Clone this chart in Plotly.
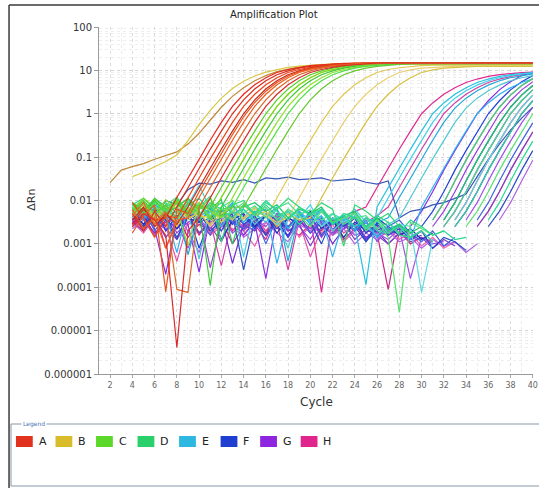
import plotly.graph_objects as go

# Cycle numbers; each well's list of log10(ΔRn) readings ends at cycle 40
CYCLES = list(range(1, 41))

ROW_A = [
    [-2.55, -2.20, -2.45, -2.40, -1.93, -1.48, -1.04, -0.61, -0.20, 0.17, 0.45, 0.67, 0.83, 0.95, 1.02, 1.07, 1.11, 1.13, 1.15,
     1.16, 1.16, 1.16, 1.16, 1.16, 1.16, 1.16, 1.16, 1.16, 1.16, 1.16, 1.16, 1.16, 1.16, 1.16, 1.16, 1.16, 1.16],
    [-2.30, -2.70, -2.25, -2.60, -2.15, -1.70, -1.25, -0.82, -0.40, 0.00, 0.32, 0.57, 0.76, 0.90, 0.99, 1.05, 1.09, 1.12, 1.14, 1.15,
     1.17, 1.17, 1.17, 1.17, 1.17, 1.17, 1.17, 1.17, 1.17, 1.17, 1.17, 1.17, 1.17, 1.17, 1.17, 1.17, 1.17],
    [-2.05, -2.40, -2.85, -2.35, -2.40, -1.93, -1.48, -1.04, -0.61, -0.20, 0.17, 0.45, 0.67, 0.83, 0.95, 1.02, 1.07, 1.11, 1.13, 1.15,
     1.16, 1.16, 1.16, 1.16, 1.16, 1.16, 1.16, 1.16, 1.16, 1.16, 1.16, 1.16, 1.16, 1.16, 1.16, 1.16, 1.16],
    [-2.45, -2.15, -2.60, -2.30, -2.55, -2.15, -1.70, -1.25, -0.82, -0.40, 0.00, 0.32, 0.57, 0.76, 0.90, 0.99, 1.05, 1.09, 1.12, 1.14, 1.15,
     1.17, 1.17, 1.17, 1.17, 1.17, 1.17, 1.17, 1.17, 1.17, 1.17, 1.17, 1.17, 1.17, 1.17, 1.17, 1.17],
    [-2.75, -2.35, -2.10, -4.10, -2.20, -2.30, -1.80, -1.35, -0.90, -0.48, -0.07, 0.26, 0.52, 0.72, 0.87, 0.97, 1.04, 1.08, 1.11, 1.13, 1.15,
     1.16, 1.16, 1.16, 1.16, 1.16, 1.16, 1.16, 1.16, 1.16, 1.16, 1.16, 1.16, 1.16, 1.16, 1.16, 1.16],
    [-2.20, -2.65, -2.40, -3.10, -2.45, -2.40, -1.93, -1.48, -1.04, -0.61, -0.20, 0.17, 0.45, 0.67, 0.83, 0.95, 1.02, 1.07, 1.11, 1.13, 1.15,
     1.17, 1.17, 1.17, 1.17, 1.17, 1.17, 1.17, 1.17, 1.17, 1.17, 1.17, 1.17, 1.17, 1.17, 1.17, 1.17],
    [-2.35, -2.05, -2.55, -2.25, -4.05, -4.12, -2.15, -1.70, -1.25, -0.82, -0.40, 0.00, 0.32, 0.57, 0.76, 0.90, 0.99, 1.05, 1.09, 1.12,
     1.14, 1.15, 1.16, 1.16, 1.16, 1.16, 1.16, 1.16, 1.16, 1.16, 1.16, 1.16, 1.16, 1.16, 1.16, 1.16, 1.16],
    [-2.60, -2.30, -2.45, -2.80, -5.39, -2.70, -2.40, -1.93, -1.48, -1.04, -0.61, -0.20, 0.17, 0.45, 0.67, 0.83, 0.95, 1.02, 1.07, 1.11,
     1.13, 1.15, 1.17, 1.17, 1.17, 1.17, 1.17, 1.17, 1.17, 1.17, 1.17, 1.17, 1.17, 1.17, 1.17, 1.17, 1.17],
]
COLORS_A = ["#e8281c", "#d8301e", "#f04418", "#c82818", "#e85420", "#f05c1c", "#d86a2a", "#d82c2c"]

ROW_B = [
    [-1.59, -1.30, -1.22, -1.15, -1.05, -0.97, -0.88, -0.70, -0.45, -0.15, 0.15, 0.40, 0.60, 0.76, 0.88, 0.97, 1.03,
     1.08, 1.11, 1.13, 1.14, 1.15, 1.15, 1.15, 1.15, 1.15, 1.15, 1.15, 1.15, 1.15, 1.15, 1.15, 1.15, 1.15, 1.15, 1.15, 1.15, 1.15, 1.15],
    [-1.45, -1.35, -1.22, -1.10, -0.95, -0.62, -0.25, 0.08, 0.36, 0.58, 0.75, 0.87, 0.96, 1.02, 1.07, 1.10, 1.12, 1.14,
     1.15, 1.15, 1.15, 1.15, 1.15, 1.15, 1.15, 1.15, 1.15, 1.15, 1.15, 1.15, 1.15, 1.15, 1.15, 1.15, 1.15, 1.15, 1.15],
    [-2.25, -2.05, -2.40, -2.15, -2.55, -2.20, -2.35, -2.40, -1.93, -1.48, -1.04, -0.61, -0.20, 0.17, 0.45, 0.67, 0.83, 0.95,
     1.02, 1.07, 1.11, 1.13, 1.15, 1.16, 1.16, 1.16, 1.16, 1.16, 1.16, 1.16, 1.16, 1.16, 1.16, 1.16, 1.16, 1.16, 1.16],
    [-2.30, -2.10, -2.45, -2.20, -2.60, -2.15, -2.35, -2.05, -2.50, -2.25, -2.40, -2.15, -2.40, -1.93, -1.48, -1.04, -0.61, -0.20,
     0.17, 0.45, 0.67, 0.83, 0.95, 1.02, 1.06, 1.09, 1.11, 1.12, 1.12, 1.12, 1.12, 1.12, 1.12, 1.12, 1.12, 1.12, 1.12],
    [-2.40, -2.20, -2.55, -2.30, -2.10, -2.45, -2.25, -2.60, -2.30, -2.15, -2.45, -2.20, -2.35, -2.50, -2.40, -1.93, -1.48, -1.04,
     -0.61, -0.20, 0.17, 0.45, 0.67, 0.83, 0.95, 1.01, 1.05, 1.07, 1.08, 1.09, 1.09, 1.09, 1.09, 1.09, 1.09, 1.09, 1.09],
    [-2.35, -2.15, -2.50, -2.25, -2.05, -2.40, -2.30, -2.55, -2.20, -2.45, -2.10, -2.35, -2.25, -2.60, -2.30, -2.45, -2.40, -1.93,
     -1.48, -1.04, -0.61, -0.20, 0.17, 0.45, 0.67, 0.83, 0.95, 1.01, 1.05, 1.07, 1.08, 1.09, 1.09, 1.09, 1.09, 1.09, 1.09],
]
COLORS_B = ["#c08a3a", "#d8c848", "#c8d838", "#e0c850", "#e8d070", "#d8c040"]

ROW_C = [
    [-2.10, -2.30, -1.95, -2.20, -2.05, -2.35, -2.15, -2.15, -1.70, -1.25, -0.82, -0.40, 0.00, 0.32, 0.57, 0.76, 0.90, 0.99,
     1.05, 1.09, 1.12, 1.14, 1.15, 1.16, 1.16, 1.16, 1.16, 1.16, 1.16, 1.16, 1.16, 1.16, 1.16, 1.16, 1.16, 1.16, 1.16],
    [-2.20, -1.95, -2.15, -2.40, -2.00, -2.25, -2.10, -2.40, -1.93, -1.48, -1.04, -0.61, -0.20, 0.17, 0.45, 0.67, 0.83, 0.95,
     1.02, 1.07, 1.11, 1.13, 1.15, 1.17, 1.17, 1.17, 1.17, 1.17, 1.17, 1.17, 1.17, 1.17, 1.17, 1.17, 1.17, 1.17, 1.17],
    [-2.05, -2.25, -2.00, -2.30, -2.15, -1.95, -2.20, -3.96, -2.15, -1.70, -1.25, -0.82, -0.40, 0.00, 0.32, 0.57, 0.76, 0.90,
     0.99, 1.05, 1.09, 1.12, 1.14, 1.15, 1.16, 1.16, 1.16, 1.16, 1.16, 1.16, 1.16, 1.16, 1.16, 1.16, 1.16, 1.16, 1.16],
    [-2.30, -2.10, -2.35, -1.98, -2.20, -3.05, -2.05, -2.25, -2.40, -1.93, -1.48, -1.04, -0.61, -0.20, 0.17, 0.45, 0.67, 0.83,
     0.95, 1.02, 1.07, 1.11, 1.13, 1.15, 1.16, 1.16, 1.16, 1.16, 1.16, 1.16, 1.16, 1.16, 1.16, 1.16, 1.16, 1.16, 1.16],
    [-2.15, -2.35, -2.05, -2.25, -1.95, -2.30, -2.10, -2.45, -2.20, -2.15, -1.70, -1.25, -0.82, -0.40, 0.00, 0.32, 0.57, 0.76,
     0.90, 0.99, 1.05, 1.09, 1.12, 1.14, 1.15, 1.16, 1.16, 1.16, 1.16, 1.16, 1.16, 1.16, 1.16, 1.16, 1.16, 1.16, 1.16],
    [-2.25, -2.00, -2.30, -2.10, -2.40, -2.05, -2.20, -1.95, -2.35, -2.15, -2.15, -1.70, -1.25, -0.82, -0.40, 0.00, 0.32, 0.57,
     0.76, 0.90, 0.99, 1.05, 1.09, 1.12, 1.14, 1.15, 1.15, 1.15, 1.15, 1.15, 1.15, 1.15, 1.15, 1.15, 1.15, 1.15, 1.15],
]
COLORS_C = ["#58d028", "#78d820", "#40c838", "#90e030", "#50e048", "#68c830"]

ROW_D = [
    [-2.10, -1.95, -2.20, -2.05, -2.30, -2.00, -2.15, -1.90, -2.95, -2.10, -2.00, -2.35, -2.05, -2.20, -1.95, -2.15, -2.30, -2.05,
     -2.20, -3.05, -2.10, -2.25, -2.45, -2.30, -2.60, -2.75, None, -2.45, -2.05, -1.55, -1.07, -0.63, -0.21, 0.15, 0.43, 0.65, 0.81],
    [-2.05, -2.25, -1.95, -2.15, -2.00, -2.30, -2.10, -2.20, -1.98, -3.00, -2.15, -2.05, -2.25, -2.10, -2.40, -2.20, -2.30, -2.15,
     -2.50, -2.35, -2.25, -2.60, -2.40, -2.70, -2.55, -2.75, -2.60, None, -2.45, -2.05, -1.55, -1.07, -0.63, -0.21, 0.15, 0.43, 0.65],
    [-2.20, -2.00, -2.30, -2.10, -1.92, -2.25, -2.05, -2.35, -2.15, -2.00, -2.28, -2.12, -2.40, -2.18, -2.05, -2.32, -2.22, -2.45,
     -2.30, -2.55, -2.40, -2.35, -2.65, -2.50, -2.80, -2.85, -2.70, None, -2.60, -2.25, -1.80, -1.30, -0.85, -0.42, 0.00, 0.30, 0.55],
    [-2.15, -2.35, -2.05, -2.20, -2.40, -2.10, -1.95, -2.25, -2.05, -2.30, -2.20, -2.45, -2.10, -2.35, -2.25, -2.55, -2.30, -2.20,
     -2.45, -2.35, -2.60, -2.40, -2.70, -2.75, -2.60, -2.85, -2.70, -2.95, None, -2.60, -2.25, -1.80, -1.30, -0.85, -0.42, 0.00, 0.30],
    [-2.25, -2.05, -2.30, -2.15, -2.00, -2.35, -2.20, -2.10, -2.40, -2.25, -2.05, -2.30, -2.15, -2.45, -2.20, -2.35, -2.60, -2.25,
     -2.50, -2.40, -2.30, -2.70, -2.45, -2.85, -4.58, -2.50, -2.65, -2.80, -2.70, None, -2.60, -2.25, -1.80, -1.30, -0.85, -0.42, 0.00],
    [-2.10, -2.30, -2.00, -2.25, -2.15, -1.95, -2.35, -2.05, -2.20, -2.40, -2.10, -2.30, -2.00, -2.25, -2.45, -2.15, -2.35, -2.20,
     -2.55, -2.30, -2.40, -2.65, -2.35, -2.50, -2.75, -2.45, -2.60, -2.80, -2.70, -2.90, -2.85, None, -2.45, -2.05, -1.55, -1.07, -0.63],
]
COLORS_D = ["#30d878", "#20c868", "#48e088", "#38d0a0", "#58e070", "#28d890"]

ROW_E = [
    [-2.30, -2.10, -2.45, -2.20, -2.55, -2.05, -2.35, -2.25, -2.60, -2.15, -2.40, -2.30, -2.50, -2.20, -2.65, -2.35, -2.45, -2.25,
     -2.55, -2.40, -2.60, -3.94, -2.15, -1.70, -1.25, -0.82, -0.40, 0.00, 0.25, 0.45, 0.60, 0.72, 0.80, 0.86, 0.90, 0.93, 0.95],
    [-2.15, -2.35, -2.05, -2.40, -2.25, -2.10, -1.65, -2.20, -2.30, -2.05, -3.30, -2.15, -2.35, -2.55, -2.25, -2.40, -2.10, -2.60,
     -2.30, -2.45, -2.20, -2.50, -2.40, -1.93, -1.48, -1.04, -0.61, -0.20, 0.13, 0.36, 0.53, 0.66, 0.76, 0.83, 0.88, 0.92, 0.94],
    [-2.25, -2.45, -2.15, -2.35, -2.05, -3.25, -2.30, -2.20, -2.40, -2.10, -2.50, -2.25, -2.35, -2.15, -3.40, -2.30, -2.45, -2.20,
     -2.55, -2.35, -2.70, -2.40, -2.50, -2.40, -1.93, -1.48, -1.04, -0.61, -0.20, 0.13, 0.36, 0.53, 0.66, 0.76, 0.83, 0.88, 0.92],
    [-2.35, -2.20, -2.50, -2.10, -2.40, -2.25, -3.35, -2.15, -2.35, -2.45, -2.20, -2.55, -2.30, -2.40, -3.10, -2.25, -2.50, -2.35,
     -2.70, -2.45, -2.30, -2.60, -2.80, -2.55, -2.40, -1.93, -1.48, -1.04, -0.61, -0.20, 0.13, 0.36, 0.53, 0.66, 0.76, 0.83, 0.88],
    [-2.20, -2.40, -2.10, -2.30, -3.20, -2.15, -2.45, -2.25, -2.35, -2.05, -2.50, -2.30, -2.20, -3.45, -2.40, -2.25, -2.55, -2.35,
     -3.30, -2.45, -2.60, -2.50, -2.85, -2.65, -2.55, -2.90, -2.15, -1.70, -1.25, -0.82, -0.40, 0.00, 0.25, 0.45, 0.60, 0.72, 0.80],
    [-2.25, -2.05, -2.35, -2.15, -2.45, -2.20, -2.30, -2.10, -2.50, -2.25, -2.40, -2.15, -2.35, -2.55, -2.20, -2.45, -2.30, -2.60,
     -2.40, -2.50, -2.35, -2.65, -2.45, -2.75, -2.55, -2.60, -4.12, -2.90, None, -2.45, -2.05, -1.55, -1.07, -0.63, -0.21, 0.15, 0.43],
]
COLORS_E = ["#28c0e0", "#40d0e8", "#20a8d8", "#50c8d0", "#30b0f0", "#60d8e0"]

ROW_F = [
    [-2.30, -2.55, -2.15, -2.70, -2.35, -2.25, -3.10, -2.40, -2.20, -2.55, -2.35, -2.65, -2.30, -2.45, -2.85, -2.25, -2.50, -2.40,
     -2.70, -2.35, -2.60, -2.95, -2.50, -2.75, -2.60, None, -2.60, -2.25, -1.80, -1.30, -0.85, -0.42, 0.00, 0.30, 0.55, 0.74, 0.88],
    [-2.45, -2.20, -2.60, -2.35, -2.85, -2.40, -2.25, -2.70, -2.50, -2.30, -3.60, -2.45, -2.35, -2.65, -2.40, -2.55, -2.30, -2.80,
     -2.50, -2.60, -2.40, -2.95, -2.65, -2.75, -2.55, -2.85, -2.70, None, -2.45, -2.05, -1.55, -1.07, -0.63, -0.21, 0.15, 0.43, 0.65],
    [-2.25, -2.55, -2.35, -2.15, -2.65, -2.40, -2.50, -2.20, -2.90, -2.45, -2.30, -2.60, -2.35, -2.75, -2.40, -2.55, -2.25, -2.65,
     -2.45, -2.85, -2.50, -2.70, -2.40, -2.60, -2.80, -2.65, -2.90, -2.75, None, -2.60, -2.25, -1.80, -1.30, -0.85, -0.42, 0.00, 0.30],
    [-2.40, -2.20, -2.70, -2.35, -2.55, -2.25, -2.45, -2.80, -2.30, -2.50, -2.65, -2.35, -3.00, -2.40, -2.60, -2.30, -2.75, -2.45,
     -2.55, -2.35, -2.70, -2.50, -2.85, -2.60, -2.45, -2.75, -2.95, -2.70, -3.05, -2.85, None, -2.45, -2.05, -1.55, -1.07, -0.63, -0.21],
    [-2.40, -2.20, -2.30, -2.00, -2.10, -1.75, -1.60, -1.62, -1.55, -1.58, -1.52, -1.60, -1.48, -1.50, -1.46, -1.52, -1.50, -1.48,
     -1.55, -1.52, -1.50, -1.58, -1.62, -1.55, -2.40, -2.25, -2.20, -2.10, -2.05, -1.95, -1.85, -1.45, -1.05, -0.70, -0.38, -0.10, 0.15],
    [-2.35, -2.60, -2.25, -2.45, -2.90, -2.30, -2.50, -2.40, -2.70, -2.25, -2.55, -2.35, -2.80, -2.45, -2.65, -2.30, -2.50, -3.00,
     -2.40, -2.60, -2.35, -2.75, -2.55, -2.80, -2.65, -2.90, -2.70, -3.10, -2.85, -2.95, -3.15, None, -2.60, -2.25, -1.80, -1.30, -0.85],
]
COLORS_F = ["#2040d8", "#3050c0", "#1830b0", "#4060e0", "#3858b8", "#2848c8"]

ROW_G = [
    [-2.50, -2.30, -2.65, -3.70, -2.40, -2.55, -3.65, -2.35, -2.60, -2.45, -2.80, -2.50, -3.80, -2.40, -2.70, -2.55, -2.35, -2.85,
     -2.50, -2.65, -2.40, -2.90, -2.60, -2.75, None, -2.60, -2.25, -1.80, -1.30, -0.85, -0.42, 0.00, 0.30, 0.55, 0.74, 0.88, 0.96],
    [-2.35, -2.65, -2.45, -2.25, -2.75, -2.50, -2.40, -3.55, -2.55, -2.35, -2.70, -2.45, -2.60, -2.30, -2.85, -2.50, -2.65, -2.40,
     -2.80, -2.55, -2.70, -2.45, -2.95, -2.65, -2.80, -2.70, None, -2.60, -2.25, -1.80, -1.30, -0.85, -0.42, 0.00, 0.30, 0.55, 0.74],
    [-2.55, -2.35, -2.80, -2.45, -2.65, -2.30, -2.75, -2.50, -2.40, -3.45, -2.55, -2.70, -2.35, -2.60, -2.80, -2.45, -2.75, -2.50,
     -3.00, -2.65, -2.55, -2.85, -2.70, -3.00, -2.75, -2.90, -2.80, None, -2.60, -2.25, -1.80, -1.30, -0.85, -0.42, 0.00, 0.30, 0.55],
    [-2.40, -2.60, -2.30, -2.70, -2.50, -3.10, -2.45, -2.65, -2.35, -2.75, -2.55, -2.40, -2.80, -2.50, -2.70, -2.60, -2.90, -2.45,
     -2.65, -2.55, -2.80, -2.70, -2.75, -2.90, -2.65, -3.80, -2.85, -3.00, -2.95, None, -2.45, -2.05, -1.55, -1.07, -0.63, -0.21, 0.15],
    [-2.50, -2.70, -2.40, -2.85, -2.55, -2.35, -2.75, -2.60, -2.95, -2.45, -2.65, -2.50, -2.80, -2.40, -2.70, -2.55, -3.05, -2.60,
     -2.75, -2.50, -2.90, -2.65, -2.80, -3.00, -2.75, -2.95, -2.85, -3.10, -2.90, -3.05, None, -2.60, -2.25, -1.80, -1.30, -0.85, -0.42],
    [-2.65, -2.45, -2.80, -2.55, -2.35, -2.70, -3.20, -2.50, -2.60, -2.40, -2.85, -2.65, -2.50, -2.75, -2.95, -2.55, -2.70, -2.45,
     -2.80, -2.65, -3.00, -2.75, -2.90, -2.70, -2.95, -2.85, -3.10, -2.90, -3.05, -2.95, -3.20, -3.00, None, -2.45, -2.05, -1.55, -1.07],
]
COLORS_G = ["#8830e0", "#9a40d8", "#7028d0", "#a050e8", "#8040c0", "#b060e0"]

ROW_H = [
    [-2.40, -2.65, -2.20, -3.10, -2.50, -2.35, -2.80, -2.45, -2.25, -2.70, -2.40, -2.55, -2.90, -2.30, -2.60, -2.45, -2.35, -4.12,
     -2.40, -2.55, -2.25, -2.15, -1.70, -1.25, -0.82, -0.40, 0.00, 0.25, 0.45, 0.60, 0.72, 0.80, 0.86, 0.90, 0.93, 0.95, 0.96],
    [-2.55, -2.35, -2.80, -2.45, -2.65, -2.30, -2.75, -2.50, -3.50, -2.40, -2.60, -2.35, -2.70, -2.50, -3.60, -2.45, -2.65, -2.55,
     -2.80, -2.40, -2.60, -2.50, -2.35, -2.15, -1.70, -1.25, -0.82, -0.40, 0.00, 0.25, 0.45, 0.60, 0.72, 0.80, 0.86, 0.90, 0.93],
    [-2.45, -2.70, -2.35, -2.60, -3.40, -2.50, -2.40, -2.75, -2.55, -2.65, -2.80, -2.45, -2.70, -2.35, -2.60, -2.50, -3.30, -2.65,
     -2.40, -2.75, -2.55, -2.90, -2.70, -2.80, -2.60, -2.85, None, -2.45, -2.05, -1.55, -1.07, -0.63, -0.21, 0.15, 0.43, 0.65, 0.81],
    [-2.60, -2.40, -2.75, -2.50, -2.35, -2.85, -2.55, -2.70, -2.45, -3.00, -2.60, -2.50, -2.75, -2.40, -2.65, -2.80, -2.55, -2.70,
     -2.45, -2.90, -2.65, -2.50, -2.75, -4.05, -2.70, -3.00, -2.85, -2.95, None, -2.45, -2.05, -1.55, -1.07, -0.63, -0.21, 0.15, 0.43],
    [-2.50, -2.75, -2.40, -2.65, -2.90, -2.55, -2.45, -2.80, -2.60, -2.35, -2.70, -3.05, -2.50, -2.65, -2.40, -2.85, -2.60, -2.75,
     -2.55, -2.95, -2.70, -2.50, -2.80, -2.65, -2.90, -2.75, -3.05, -2.85, -3.10, -2.95, None, -2.60, -2.25, -1.80, -1.30, -0.85, -0.42],
]
COLORS_H = ["#e02890", "#d040a0", "#e850a8", "#c82880", "#f060b0"]

LEGEND_ROWS = ["A", "B", "C", "D", "E", "F", "G", "H"]
LEGEND_COLORS = ["#e0321e", "#d8bc2c", "#5cd82a", "#2ad06a", "#2cb8e0", "#1f3fd0", "#8e26e0", "#e0268c"]

Y_TICK_VALUES = [1e-6, 1e-5, 1e-4, 1e-3, 1e-2, 1e-1, 1, 10, 100]
Y_TICK_TEXT = ["0.000001", "0.00001", "0.0001", "0.001", "0.01", "0.1", "1", "10", "100"]
X_TICK_VALUES = list(range(2, 41, 2))

# Page geometry (pixels) and helpers to place decorations in paper coordinates
W, H = 539, 488
ML, MR, MT, MB = 99, 1, 27, 114
PW, PH = W - ML - MR, H - MT - MB


def px(x):
    return (x - ML) / PW


def py(y):
    return (H - MB - y) / PH


FONT = "DejaVu Sans"

fig = go.Figure()


def add_row(curves, colors):
    for vals, col in zip(curves, colors):
        xs = CYCLES[-len(vals):]
        ys = [None if v is None else 10 ** v for v in vals]
        fig.add_trace(go.Scatter(
            x=xs, y=ys, mode="lines",
            line=dict(color=col, width=1.2),
            showlegend=False, hoverinfo="skip",
        ))


for rows, cols in [(ROW_H, COLORS_H), (ROW_G, COLORS_G), (ROW_F, COLORS_F), (ROW_E, COLORS_E),
                   (ROW_B, COLORS_B), (ROW_D, COLORS_D), (ROW_C, COLORS_C), (ROW_A, COLORS_A)]:
    add_row(rows, cols)

shapes = [
    # outer window frame
    dict(type="line", xref="paper", yref="paper", x0=px(8), x1=px(8), y0=py(490), y1=py(5),
         line=dict(color="#3a3a3a", width=1.5)),
    dict(type="line", xref="paper", yref="paper", x0=px(8), x1=px(545), y0=py(5), y1=py(5),
         line=dict(color="#3a3a3a", width=1.5)),
    # legend group box
    dict(type="rect", xref="paper", yref="paper", x0=px(10), x1=px(560), y0=py(486), y1=py(424),
         line=dict(color="#8797a8", width=1), fillcolor="rgba(0,0,0,0)"),
]

annotations = [
    dict(text="Amplification Plot", x=px(276), y=py(14), xref="paper", yref="paper",
         xanchor="center", yanchor="middle",
         showarrow=False, font=dict(family=FONT, size=10, color="#222")),
    dict(text="ΔRn", x=px(30), y=py(200), xref="paper", yref="paper", textangle=-90,
         xanchor="center", yanchor="middle",
         showarrow=False, font=dict(family=FONT, size=11, color="#333")),
    dict(text="Cycle", x=px(319), y=py(402), xref="paper", yref="paper",
         xanchor="center", yanchor="middle",
         showarrow=False, font=dict(family=FONT, size=12, color="#333")),
    dict(text="Legend", x=px(20), y=py(424), xref="paper", yref="paper",
         xanchor="left", yanchor="middle",
         showarrow=False, bgcolor="white", borderpad=1,
         font=dict(family=FONT, size=6, color="#4a72b8")),
]

swatch_left = [15, 55, 96, 138, 180, 222, 262, 303]
for name, col, x0 in zip(LEGEND_ROWS, LEGEND_COLORS, swatch_left):
    shapes.append(dict(type="rect", xref="paper", yref="paper", x0=px(x0), x1=px(x0 + 17),
                       y0=py(447), y1=py(436), fillcolor=col, line=dict(width=0)))
    annotations.append(dict(text=name, x=px(x0 + 21), y=py(441.5), xref="paper", yref="paper",
                            xanchor="left", yanchor="middle", showarrow=False,
                            font=dict(family=FONT, size=11, color="#222")))

fig.update_layout(
    width=W, height=H,
    margin=dict(l=ML, r=MR, t=MT, b=MB),
    paper_bgcolor="white", plot_bgcolor="white",
    showlegend=False,
    shapes=shapes, annotations=annotations,
    xaxis=dict(
        range=[1, 40.02],
        tickmode="array", tickvals=X_TICK_VALUES,
        ticks="outside", ticklen=3, tickcolor="#aaa",
        tickfont=dict(family=FONT, size=8, color="#666"),
        ticklabeloverflow="allow",
        showline=True, linecolor="#9a9a9a", linewidth=1,
        showgrid=True, gridcolor="#dcdcdc", griddash="dot", gridwidth=1,
        minor=dict(dtick=1, tick0=1, showgrid=True, gridcolor="#ececec", griddash="dot"),
        zeroline=False,
    ),
    yaxis=dict(
        type="log", range=[-6, 2],
        tickmode="array", tickvals=Y_TICK_VALUES, ticktext=Y_TICK_TEXT,
        ticks="outside", ticklen=4, tickcolor="#999",
        tickfont=dict(family=FONT, size=10, color="#333"),
        showline=True, linecolor="#9a9a9a", linewidth=1,
        showgrid=True, gridcolor="#d4d4d4", griddash="dot", gridwidth=1,
        minor=dict(dtick="D1", showgrid=True, gridcolor="#eeeeee", griddash="dot"),
        zeroline=False,
    ),
)

fig.write_html("out.html")
